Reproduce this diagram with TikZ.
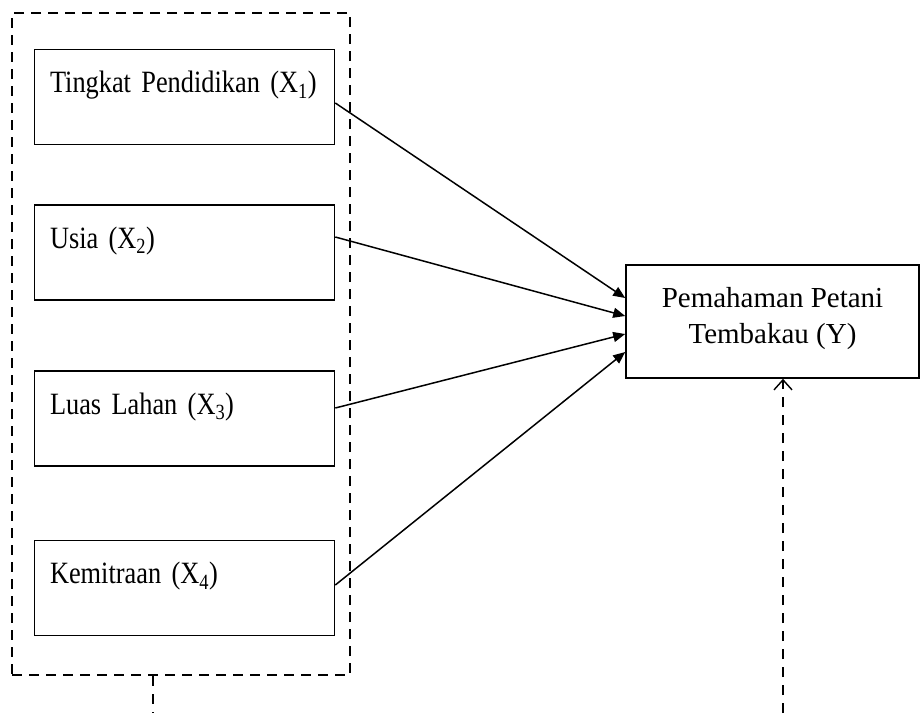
\documentclass[tikz,border=0pt]{standalone}
\usepackage{fontspec}
\setmainfont{Liberation Serif}
\newfontfamily\narrowserif{Liberation Serif}[FakeStretch=0.85, WordSpace=0.7]
\usetikzlibrary{arrows.meta}

\begin{document}
\begin{tikzpicture}[x=1pt, y=-1pt,
    varbox/.style={draw, line width=1.6pt, minimum width=300pt, minimum height=95pt,
      text width=269pt, inner xsep=15pt, align=left, text height=20pt, text depth=29pt,
      font=\narrowserif\fontsize{31}{36}\selectfont},
    ybox/.style={draw, line width=1.6pt, minimum width=293pt, minimum height=113pt,
      align=center, text depth=13pt, font=\fontsize{29}{36}\selectfont},
    grpbox/.style={draw, line width=2.2pt, dash pattern=on 10pt off 7pt,
      minimum width=338pt, minimum height=662pt, inner sep=0pt},
    link/.style={line width=1.5pt, -{Triangle[length=12pt,width=10pt]}},
    hint/.style={line width=2.2pt, dash pattern=on 10pt off 8pt}]
    \useasboundingbox (0,0) rectangle (920,713);

    \node at (181, 344) (grp) [grpbox] {};
    \node at (184.5, 97) (X1) [varbox] {Tingkat Pendidikan (X\textsubscript{1})};
    \node at (184.5, 252.5) (X2) [varbox] {Usia (X\textsubscript{2})};
    \node at (184.5, 418.5) (X3) [varbox] {Luas Lahan (X\textsubscript{3})};
    \node at (184.5, 588) (X4) [varbox] {Kemitraan (X\textsubscript{4})};
    \node at (772.5, 321.5) (Y) [ybox] {Pemahaman Petani\\Tembakau (Y)};

    \draw[link] ([yshift=-6pt]X1.east) -- ([yshift=23.5pt]Y.west);
    \draw[link] ([yshift=15.5pt]X2.east) -- ([yshift=5.5pt]Y.west);
    \draw[link] ([yshift=10.5pt]X3.east) -- ([yshift=-12.5pt]Y.west);
    \draw[link] ([yshift=3pt]X4.east) -- ([yshift=-30.5pt]Y.west);

    \coordinate (xfoot) at (153, 713);
    \coordinate (yfoot) at (783, 713);
    \draw[hint] ([xshift=-28pt]grp.south) -- (xfoot);
    \draw[hint, -{Straight Barb[length=10pt, width=18pt, line width=1.4pt]}] (yfoot) -- ([xshift=10.5pt]Y.south);
\end{tikzpicture}
\end{document}
